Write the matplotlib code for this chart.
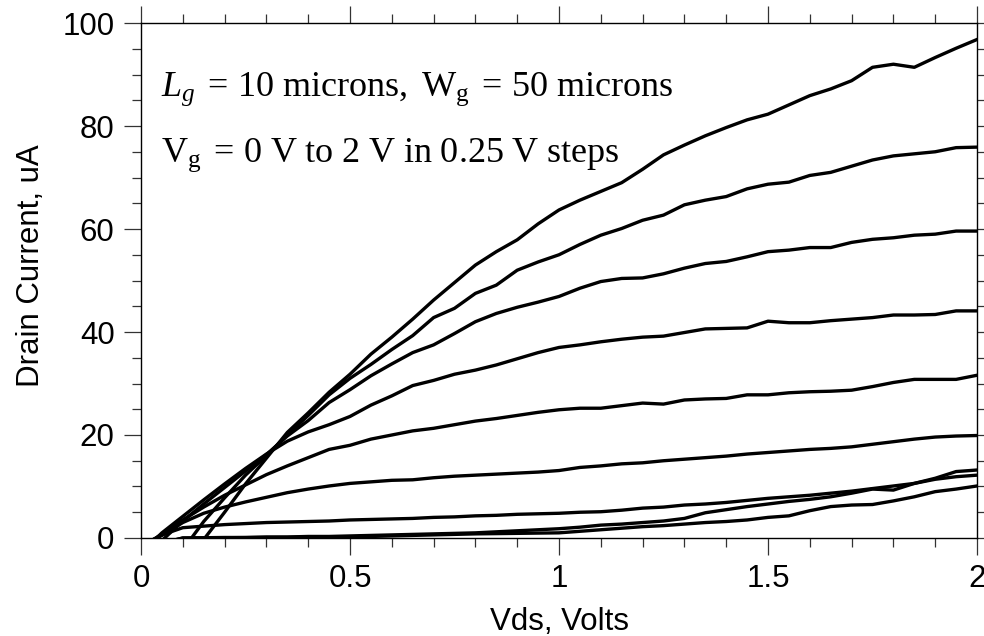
import matplotlib
matplotlib.use("Agg")
import matplotlib.pyplot as plt
from matplotlib.ticker import MultipleLocator

# drain voltage grid, volts
vds = [0.00, 0.05, 0.10, 0.15, 0.20, 0.25, 0.30, 0.35, 0.40, 0.45,
       0.50, 0.55, 0.60, 0.65, 0.70, 0.75, 0.80, 0.85, 0.90, 0.95,
       1.00, 1.05, 1.10, 1.15, 1.20, 1.25, 1.30, 1.35, 1.40, 1.45,
       1.50, 1.55, 1.60, 1.65, 1.70, 1.75, 1.80, 1.85, 1.90, 1.95, 2.00]

# drain current (uA) for each gate voltage step
id_vg000 = [-3.0, -1.0, 0.0, 0.02, 0.05, 0.08, 0.1, 0.12, 0.15, 0.2,
            0.25, 0.3, 0.4, 0.5, 0.6, 0.7, 0.8, 0.85, 0.9, 0.95,
            1.0, 1.3, 1.6, 1.9, 2.2, 2.4, 2.7, 3.0, 3.2, 3.5,
            4.0, 4.3, 5.3, 6.1, 6.4, 6.5, 7.2, 8.0, 9.0, 9.5, 10.1]
id_vg025 = [-3.0, -1.0, 0.0, 0.05, 0.1, 0.1, 0.2, 0.2, 0.3, 0.3,
            0.4, 0.5, 0.6, 0.7, 0.8, 0.9, 1.0, 1.2, 1.4, 1.6,
            1.8, 2.1, 2.5, 2.7, 3.0, 3.3, 3.8, 4.9, 5.5, 6.1,
            6.6, 7.1, 7.5, 8.0, 8.7, 9.5, 9.3, 10.6, 11.6, 12.9, 13.2]
id_vg050 = [-1.5, 0.6, 2.0, 2.3, 2.6, 2.8, 3.0, 3.1, 3.2, 3.3,
            3.5, 3.6, 3.7, 3.8, 4.0, 4.1, 4.3, 4.4, 4.6, 4.7,
            4.8, 5.0, 5.1, 5.4, 5.8, 6.0, 6.4, 6.6, 6.9, 7.3,
            7.7, 8.0, 8.3, 8.7, 9.1, 9.6, 10.1, 10.6, 11.4, 11.9, 12.2]
id_vg075 = [-1.5, 0.5, 3.0, 4.8, 6.0, 7.0, 7.9, 8.8, 9.5, 10.1,
            10.6, 10.9, 11.2, 11.3, 11.7, 12.0, 12.2, 12.4, 12.6, 12.8,
            13.1, 13.7, 14.0, 14.4, 14.6, 15.0, 15.3, 15.6, 15.9, 16.3,
            16.6, 16.9, 17.2, 17.4, 17.7, 18.2, 18.7, 19.2, 19.6, 19.8, 19.9]
id_vg100 = [-2.0, 0.8, 3.5, 6.0, 8.3, 10.3, 12.3, 14.0, 15.6, 17.2,
            18.0, 19.2, 20.0, 20.8, 21.3, 22.0, 22.7, 23.2, 23.8, 24.4,
            24.9, 25.2, 25.2, 25.7, 26.2, 26.0, 26.8, 27.0, 27.1, 27.8,
            27.8, 28.2, 28.4, 28.5, 28.7, 29.4, 30.2, 30.8, 30.8, 30.8, 31.6]
id_vg125 = [-3.0, 1.0, 4.2, 7.4, 10.5, 13.5, 16.3, 18.8, 20.6, 22.0,
            23.6, 25.8, 27.6, 29.6, 30.6, 31.8, 32.6, 33.6, 34.8, 36.0,
            37.0, 37.5, 38.1, 38.6, 39.0, 39.2, 39.9, 40.6, 40.7, 40.8,
            42.1, 41.8, 41.8, 42.2, 42.5, 42.8, 43.3, 43.3, 43.4, 44.1, 44.1]
id_vg150 = [-5.0, -0.5, 3.3, 6.6, 9.8, 13.0, 16.2, 19.8, 22.8, 26.3,
            28.8, 31.5, 33.8, 36.0, 37.5, 39.7, 42.0, 43.6, 44.8, 45.8,
            46.9, 48.5, 49.8, 50.4, 50.5, 51.3, 52.4, 53.3, 53.7, 54.6,
            55.6, 55.9, 56.4, 56.4, 57.4, 58.0, 58.3, 58.8, 59.0, 59.6, 59.6]
id_vg175 = [-18.0, -10.0, -2.3, 3.2, 7.8, 12.2, 16.0, 20.0, 23.8, 27.8,
            31.0, 33.7, 36.6, 39.3, 42.8, 44.6, 47.5, 49.1, 52.0, 53.6,
            55.0, 57.0, 58.8, 60.1, 61.7, 62.7, 64.7, 65.6, 66.3, 67.8,
            68.7, 69.1, 70.4, 71.0, 72.2, 73.4, 74.2, 74.6, 75.0, 75.8, 75.9]
id_vg200 = [-23.0, -16.0, -5.5, -0.3, 5.0, 10.5, 15.5, 20.5, 24.3, 28.3,
            31.8, 35.7, 39.0, 42.5, 46.2, 49.6, 53.0, 55.6, 57.9, 61.0,
            63.7, 65.6, 67.3, 69.0, 71.6, 74.4, 76.3, 78.1, 79.7, 81.2,
            82.3, 84.1, 85.9, 87.2, 88.8, 91.4, 92.0, 91.4, 93.3, 95.1, 96.8]

curves = [id_vg000, id_vg025, id_vg050, id_vg075, id_vg100,
          id_vg125, id_vg150, id_vg175, id_vg200]

plt.rcParams['font.family'] = 'Liberation Sans'
plt.rcParams['mathtext.fontset'] = 'custom'
plt.rcParams['mathtext.rm'] = 'Liberation Serif'
plt.rcParams['mathtext.it'] = 'Liberation Serif:italic'

fig = plt.figure(figsize=(9.84, 6.36), dpi=100)
ax = fig.add_axes([0.1433, 0.1541, 0.8496, 0.8097])

for cur in curves:
    ax.plot(vds, cur, color='black', lw=2.4, solid_joinstyle='round')

ax.set_xlim(0, 2)
ax.set_ylim(0, 100)
ax.yaxis.set_major_locator(MultipleLocator(20))
ax.yaxis.set_minor_locator(MultipleLocator(5))
ax.xaxis.set_minor_locator(MultipleLocator(0.1))
ax.set_xticks([0, 0.5, 1, 1.5, 2])
ax.set_xticklabels(['0', '0.5', '1', '1.5', '2'])

ax.tick_params(which='both', direction='out', top=True, right=True,
               width=0.9, color='#333333', labelsize=22.5, pad=7)
ax.tick_params(which='major', length=12)
ax.tick_params(which='minor', length=6.5)
for sp in ax.spines.values():
    sp.set_linewidth(1.0)

ax.set_xlabel('Vds, Volts', fontsize=22.5, labelpad=9)
ax.set_ylabel('Drain Current, uA', fontsize=22.5)
ax.yaxis.set_label_coords(-0.114, 0.528)

ax.text(0.048, 85.8, r'$L_g\;=\,10\ \mathrm{microns,\ W_g\;=\,50\ microns}$',
        fontsize=26, va='baseline', ha='left')
ax.text(0.048, 73.1, r'$\mathrm{V_g\;=\,0\ V\ to\ 2\ V\ in\ 0.25\ V\ steps}$',
        fontsize=26, va='baseline', ha='left')

fig.savefig('out.png', dpi=100)
